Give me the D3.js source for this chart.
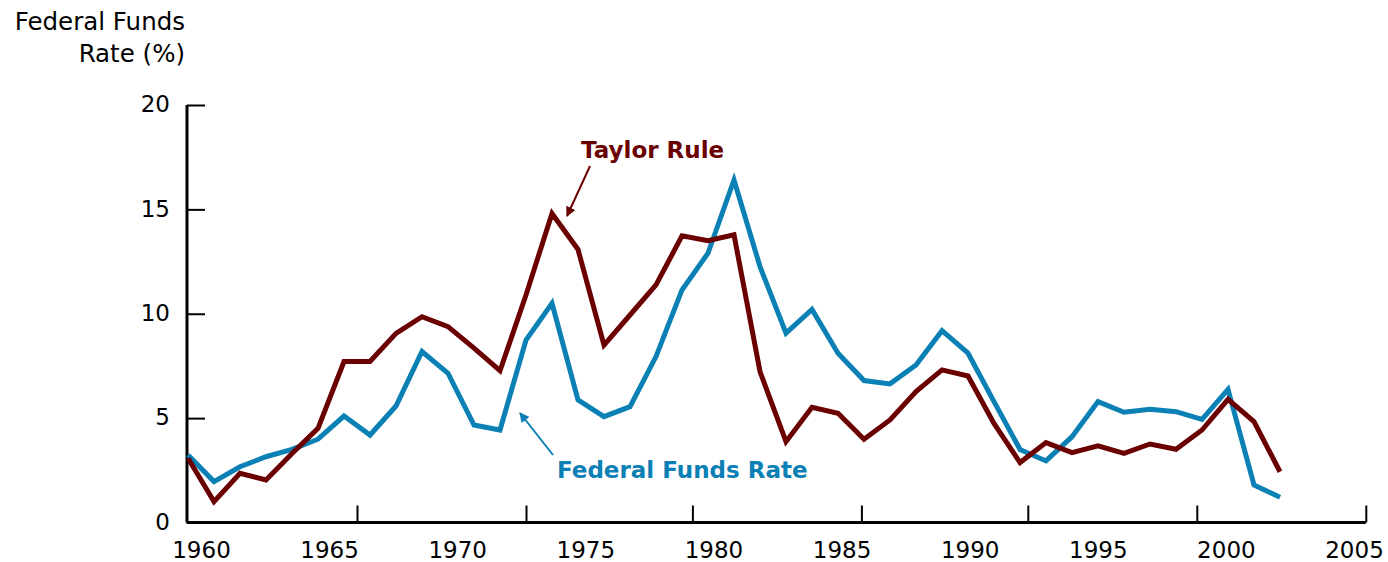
<!DOCTYPE html>
<html>
<head>
<meta charset="utf-8">
<script src="https://cdn.jsdelivr.net/npm/d3@7"></script>
<style>
  body { margin: 0; background: #fff; }
  svg { display: block; font-family: "DejaVu Sans", Verdana, sans-serif; }
</style>
</head>
<body>
<svg id="chart"></svg>
<script>
// annual data 1960-2002
const years = d3.range(1960, 2003);
const fedFunds = [3.23, 1.96, 2.67, 3.15, 3.5, 3.99, 5.1, 4.19, 5.58, 8.19,
  7.15, 4.67, 4.43, 8.74, 10.5, 5.87, 5.07, 5.55, 7.95, 11.14,
  12.9, 16.41, 12.26, 9.07, 10.21, 8.11, 6.8, 6.64, 7.55, 9.19,
  8.11, 5.79, 3.5, 2.95, 4.11, 5.79, 5.28, 5.42, 5.31, 4.94,
  6.38, 1.8, 1.21];
const taylorRule = [3.08, 1.0, 2.36, 2.04, 3.31, 4.51, 7.71, 7.71, 9.06, 9.86,
  9.38, 8.35, 7.27, 10.9, 14.8, 13.08, 8.5, 9.94, 11.38, 13.73,
  13.5, 13.78, 7.23, 3.87, 5.52, 5.23, 3.99, 4.91, 6.27, 7.31,
  7.02, 4.75, 2.87, 3.83, 3.35, 3.67, 3.31, 3.76, 3.51, 4.43,
  5.9, 4.83, 2.43];

const yTicks = [0, 5, 10, 15, 20];
const xLabels = [1960, 1965, 1970, 1975, 1980, 1985, 1990, 1995, 2000, 2005];
// tick marks on the x axis do not line up with the labels in the original
const xTickMarks = [1960, 1966.5, 1973, 1979.4, 1985.9, 1992.3, 1998.8, 2005.3];

const width = 1388, height = 562;
const blue = '#0a80b5', red = '#6b0000';

const svg = d3.select('#chart').attr('width', width).attr('height', height);

const x = d3.scaleLinear().domain([1960, 2002]).range([188, 1280]);
const y = d3.scaleLinear().domain([0, 20]).range([522.5, 105]);
const xLab = d3.scaleLinear().domain([1960, 2005]).range([201, 1354]);

// y axis
const yAxis = svg.append('g')
  .attr('transform', 'translate(187,0)')
  .call(d3.axisRight(y).tickValues(yTicks).tickSize(18).tickFormat(''));
yAxis.select('.domain').attr('d', `M0,${y(20)}V${y(0)}`).attr('stroke-width', 3);
yAxis.selectAll('.tick line').attr('stroke-width', 2);

svg.append('g').selectAll('text')
  .data(yTicks)
  .enter().append('text')
  .attr('x', 170)
  .attr('y', d => y(d))
  .attr('dy', '0.32em')
  .attr('text-anchor', 'end')
  .attr('font-size', 23)
  .text(d => d);

// x axis
const xAxis = svg.append('g')
  .attr('transform', `translate(0,${y(0)})`)
  .call(d3.axisTop(x).tickValues(xTickMarks.slice(1)).tickSize(17).tickFormat(''));
xAxis.select('.domain').attr('d', `M${x(1960) - 1.5},0H${x(2005.3)}`).attr('stroke-width', 3);
xAxis.selectAll('.tick line').attr('stroke-width', 2);

svg.append('g')
  .attr('transform', `translate(0,${y(0)})`)
  .call(d3.axisBottom(xLab).tickValues(xLabels).tickSize(0).tickPadding(19).tickFormat(d3.format('d')))
  .call(g => g.select('.domain').remove())
  .call(g => g.selectAll('text').attr('font-size', 23).attr('fill', '#000')
    .attr('font-family', '"DejaVu Sans", Verdana, sans-serif'));

// axis title
const title = svg.append('text').attr('text-anchor', 'end').attr('font-size', 24.5);
title.append('tspan').attr('x', 185).attr('y', 30).text('Federal Funds');
title.append('tspan').attr('x', 185).attr('y', 62).text('Rate (%)');

// lines
const line = d3.line().x((d, i) => x(years[i])).y(d => y(d));
svg.append('path').datum(fedFunds)
  .attr('fill', 'none').attr('stroke', blue).attr('stroke-width', 5)
  .attr('stroke-linejoin', 'miter').attr('d', line);
svg.append('path').datum(taylorRule)
  .attr('fill', 'none').attr('stroke', red).attr('stroke-width', 5)
  .attr('stroke-linejoin', 'miter').attr('d', line);

// annotations
const defs = svg.append('defs');
[['arrRed', red], ['arrBlue', blue]].forEach(([id, c]) => {
  defs.append('marker').attr('id', id)
    .attr('viewBox', '0 0 10 10').attr('refX', 9).attr('refY', 5)
    .attr('markerWidth', 5).attr('markerHeight', 5).attr('orient', 'auto')
    .append('path').attr('d', 'M0,0L10,5L0,10z').attr('fill', c);
});

svg.append('text').attr('x', 581).attr('y', 158)
  .attr('font-size', 23).attr('font-weight', 'bold').attr('fill', red)
  .text('Taylor Rule');
svg.append('line')
  .attr('x1', 590).attr('y1', 166).attr('x2', 567).attr('y2', 216)
  .attr('stroke', red).attr('stroke-width', 2).attr('marker-end', 'url(#arrRed)');

svg.append('text').attr('x', 557).attr('y', 478)
  .attr('font-size', 23).attr('font-weight', 'bold').attr('fill', blue)
  .text('Federal Funds Rate');
svg.append('line')
  .attr('x1', 553).attr('y1', 455).attr('x2', 520).attr('y2', 413)
  .attr('stroke', blue).attr('stroke-width', 2).attr('marker-end', 'url(#arrBlue)');
</script>
</body>
</html>
